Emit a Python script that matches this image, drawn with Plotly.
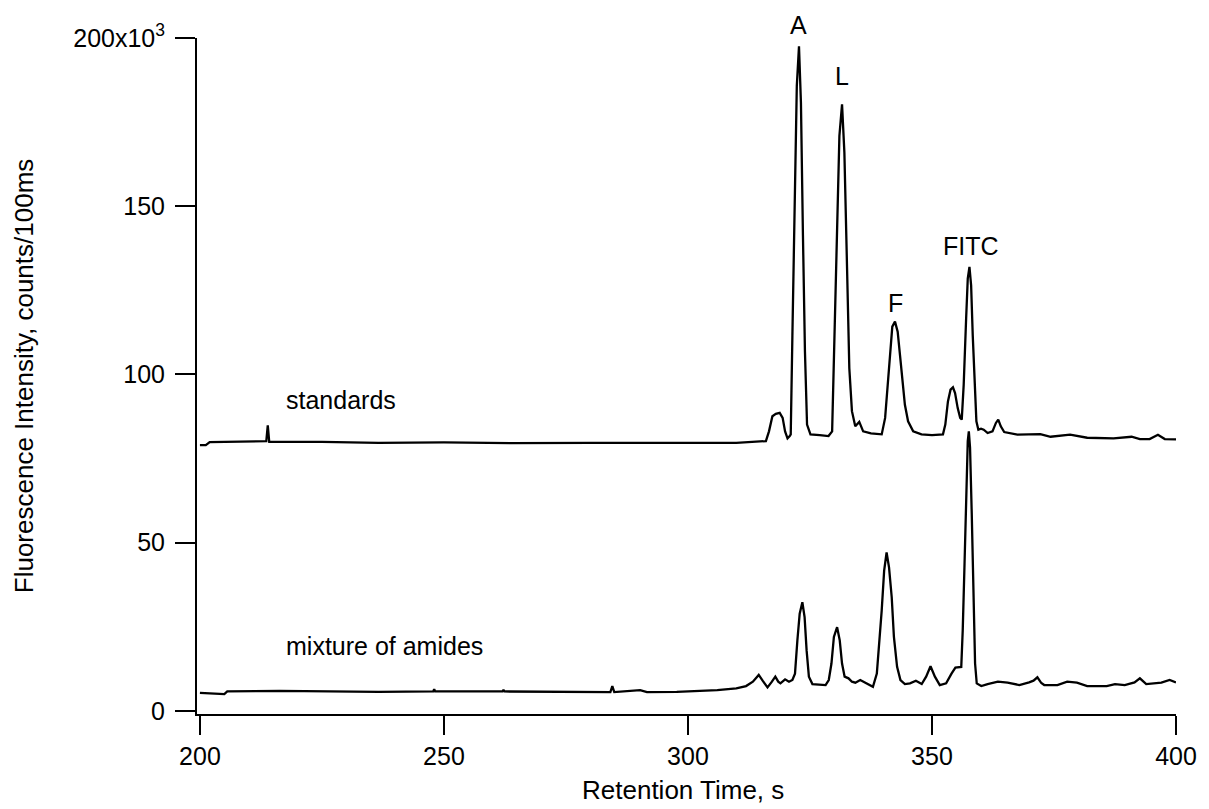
import plotly.graph_objects as go

# ---- data ----
std_time = [200, 201.2, 202, 213.6, 213.9, 214.2, 225, 236.6, 250, 263.7, 280, 297.7,
            309.9, 315.97, 316.6, 317.3, 318.0, 318.8, 319.4, 319.9, 320.4, 320.85,
            321.06, 321.4, 321.8, 322.3, 322.75, 323.15, 323.56, 323.97, 324.4, 325.1,
            327.0, 328.8, 329.54, 330.05, 330.56, 331.03, 331.57, 332.05, 332.6, 333.06,
            333.6, 334.28, 335.1, 335.9, 337.5, 339.7, 340.4, 340.9, 341.4, 341.87,
            342.42, 342.97, 343.44, 343.9, 344.45, 345.1, 346.15, 347.85, 350.0, 352.25,
            352.73, 353.27, 353.8, 354.3, 354.73, 355.27, 355.78, 356.1, 356.5, 357.0,
            357.33, 357.68, 358.02, 358.35, 358.7, 359.1, 359.5, 360.05, 360.6, 361.4,
            362.4, 363.1, 363.58, 364.1, 364.8, 367.5, 372.2, 374.3, 378.3, 381.8,
            387.2, 390.9, 392.6, 394.6, 396.3, 397.7, 400]
std_signal = [79.0, 79.0, 79.9, 80.2, 84.9, 80.0, 80.0, 79.7, 79.8, 79.6, 79.7, 79.6,
              79.7, 80.2, 83.1, 87.6, 88.3, 88.6, 87.1, 83.1, 81.0, 81.7,
              82.2, 111.7, 151.2, 185.7, 197.5, 180.8, 141.3, 106.8, 85.1, 82.2,
              82.0, 81.7, 83.1, 111.7, 146.2, 170.9, 180.3, 166.0, 131.5, 101.9,
              89.1, 84.6, 85.9, 83.1, 82.5, 82.2, 87.1, 97.0, 107.8, 114.2,
              115.7, 112.7, 105.8, 97.9, 91.0, 86.1, 83.1, 82.2, 82.0, 82.2,
              85.1, 92.0, 95.5, 96.2, 94.5, 90.0, 87.1, 86.6, 97.0, 116.7,
              128.5, 132.0, 126.5, 111.7, 97.0, 86.1, 83.6, 83.9, 83.6, 82.6,
              83.1, 85.6, 86.6, 84.6, 82.9, 82.1, 82.3, 81.5, 82.1, 81.2,
              81.0, 81.5, 80.8, 80.8, 82.1, 80.8, 80.7]

mix_time = [200, 205.0, 205.6, 216.3, 236.6, 247.8, 248.0, 248.2, 262.0, 262.2, 262.4,
            284.1, 284.5, 284.9, 290.2, 291.6, 297.7, 303.0, 306.0, 309.9, 311.9,
            313.3, 314.5, 315.3, 316.3, 317.2, 317.9, 318.5, 318.95, 319.9, 320.7,
            321.4, 321.93, 322.42, 322.89, 323.44, 323.9, 324.31, 324.78, 325.5, 328.2,
            328.85, 329.4, 329.9, 330.56, 331.1, 331.57, 332.1, 332.9, 333.6, 334.3,
            335.3, 336.6, 337.9, 338.7, 339.16, 339.7, 340.2, 340.7, 341.2, 341.75,
            342.2, 342.85, 343.54, 344.45, 345.5, 346.7, 347.9, 348.8, 349.7, 350.6,
            351.6, 352.9, 354.0, 354.8, 356.0, 356.3, 356.67, 357.0, 357.33, 357.55,
            357.8, 358.15, 358.5, 358.83, 359.17, 360.1, 361.4, 363.5, 365.5, 366.2,
            367.9, 369.9, 370.8, 371.6, 372.4, 373.0, 375.7, 377.7, 379.7, 381.8,
            385.8, 387.5, 389.5, 391.5, 392.6, 393.9, 397.0, 398.7, 400]
mix_signal = [5.4, 5.0, 5.8, 6.0, 5.7, 5.8, 6.5, 5.8, 5.8, 6.3, 5.8,
              5.6, 7.4, 5.6, 6.2, 5.6, 5.7, 5.9, 6.2, 6.7, 7.4,
              8.7, 10.7, 9.0, 7.0, 8.7, 10.2, 8.7, 8.2, 9.4, 8.7,
              9.2, 11.1, 21.0, 28.9, 32.3, 27.9, 18.0, 10.2, 8.0, 7.7,
              9.2, 14.1, 22.0, 24.9, 21.0, 14.1, 10.2, 9.7, 8.7, 8.4,
              9.2, 8.2, 7.2, 11.1, 19.0, 29.9, 41.7, 47.1, 42.7, 33.8,
              22.0, 13.1, 9.2, 8.0, 8.2, 9.0, 8.0, 10.2, 13.3, 10.2,
              7.7, 8.2, 11.1, 12.9, 13.1, 24.0, 43.7, 65.4, 80.2, 83.1,
              78.2, 58.5, 33.8, 14.1, 8.2, 7.4, 8.0, 8.7, 8.4, 8.2,
              7.7, 8.5, 9.0, 10.0, 8.3, 7.7, 7.7, 8.7, 8.4, 7.4,
              7.4, 8.0, 7.7, 8.5, 9.7, 8.0, 8.4, 9.2, 8.5]

peak_labels = ["A", "L", "F", "FITC"]
peak_label_x = [322.7, 331.6, 342.5, 357.9]
peak_label_y = [203.8, 188.8, 121.3, 138.2]

trace_labels = ["standards", "mixture of amides"]
trace_label_x = [217.2, 217.2]
trace_label_y = [92.3, 19.2]

y_tickvals = [0, 50, 100, 150, 200]
y_ticktext = ["0", "50", "100", "150", "200x10<sup>3</sup>"]
x_tickvals = [200, 250, 300, 350, 400]

FONT = "Liberation Sans, Arial, Helvetica, sans-serif"
Y_MIN, Y_MAX = -0.9, 200

fig = go.Figure()
fig.add_trace(go.Scatter(x=std_time, y=std_signal, mode="lines",
                         line=dict(color="black", width=2.3), showlegend=False))
fig.add_trace(go.Scatter(x=mix_time, y=mix_signal, mode="lines",
                         line=dict(color="black", width=2.3), showlegend=False))

annotations = []
for t, x, y in zip(peak_labels, peak_label_x, peak_label_y):
    # paper-referenced y so labels above the axis top stay visible
    annotations.append(dict(x=x, y=(y - Y_MIN) / (Y_MAX - Y_MIN), xref="x", yref="paper",
                            text=t, showarrow=False, xanchor="center", yanchor="middle",
                            font=dict(family=FONT, size=25, color="black")))
for t, x, y in zip(trace_labels, trace_label_x, trace_label_y):
    annotations.append(dict(x=x, y=y, xref="x", yref="y", text=t, showarrow=False,
                            xanchor="left", yanchor="middle",
                            font=dict(family=FONT, size=25, color="black")))
annotations.append(dict(x=-0.1765, y=0.5, xref="paper", yref="paper",
                        text="Fluorescence Intensity, counts/100ms", textangle=-90,
                        showarrow=False, xanchor="center", yanchor="middle",
                        font=dict(family=FONT, size=26, color="black")))
annotations.append(dict(x=0.4965, y=-0.1125, xref="paper", yref="paper",
                        text="Retention Time, s", showarrow=False,
                        xanchor="center", yanchor="middle",
                        font=dict(family=FONT, size=26, color="black")))

# page body adds an 8px offset, so the figure is 8px smaller and margins shifted
fig.update_layout(
    width=1201, height=801,
    margin=dict(l=189, r=26, t=27, b=95, pad=0),
    paper_bgcolor="white", plot_bgcolor="white",
    font=dict(family=FONT, size=25, color="black"),
    annotations=annotations,
    xaxis=dict(range=[199.4, 400], tickvals=x_tickvals, showline=True, linewidth=2,
               linecolor="black", ticks="outside", ticklen=19, tickwidth=2,
               tickcolor="black", showgrid=False, zeroline=False,
               tickfont=dict(family=FONT, size=25, color="black")),
    yaxis=dict(range=[Y_MIN, Y_MAX], tickvals=y_tickvals, ticktext=y_ticktext,
               showline=True, linewidth=2, linecolor="black", ticks="outside",
               ticklen=20, tickwidth=2, tickcolor="black", showgrid=False,
               zeroline=False, ticklabelstandoff=5,
               tickfont=dict(family=FONT, size=25, color="black")),
)

fig.write_html("out.html")
